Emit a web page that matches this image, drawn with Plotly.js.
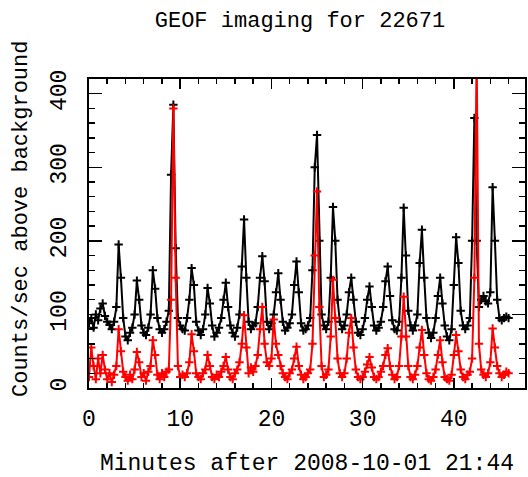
<!DOCTYPE html>
<html>
<head>
<meta charset="utf-8">
<script src="https://cdn.plot.ly/plotly-3.0.1.min.js"></script>
<style>html,body{margin:0;padding:0;background:#fff;}#chart{width:528px;height:477px;}</style>
</head>
<body>
<div id="chart"></div>
<script>
// Minutes after 2008-10-01 21:44
var minutes = [
 0.00,0.25,0.50,0.75,1.00,1.25,1.50,1.75,2.00,2.25,2.50,2.75,3.00,3.25,3.50,3.75,
 4.00,4.25,4.50,4.75,5.00,5.25,5.50,5.75,6.00,6.25,6.50,6.75,7.00,7.25,7.50,7.75,
 8.00,8.25,8.50,8.75,9.00,9.25,9.50,9.75,10.00,10.25,10.50,10.75,11.00,11.25,11.50,11.75,
 12.00,12.25,12.50,12.75,13.00,13.25,13.50,13.75,14.00,14.25,14.50,14.75,15.00,15.25,15.50,15.75,
 16.00,16.25,16.50,16.75,17.00,17.25,17.50,17.75,18.00,18.25,18.50,18.75,19.00,19.25,19.50,19.75,
 20.00,20.25,20.50,20.75,21.00,21.25,21.50,21.75,22.00,22.25,22.50,22.75,23.00,23.25,23.50,23.75,
 24.00,24.25,24.50,24.75,25.00,25.25,25.50,25.75,26.00,26.25,26.50,26.75,27.00,27.25,27.50,27.75,
 28.00,28.25,28.50,28.75,29.00,29.25,29.50,29.75,30.00,30.25,30.50,30.75,31.00,31.25,31.50,31.75,
 32.00,32.25,32.50,32.75,33.00,33.25,33.50,33.75,34.00,34.25,34.50,34.75,35.00,35.25,35.50,35.75,
 36.00,36.25,36.50,36.75,37.00,37.25,37.50,37.75,38.00,38.25,38.50,38.75,39.00,39.25,39.50,39.75,
 40.00,40.25,40.50,40.75,41.00,41.25,41.50,41.75,42.00,42.25,42.50,42.75,43.00,43.25,43.50,43.75,
 44.00,44.25,44.50,44.75,45.00,45.25,45.50,45.75,46.00
];
// Counts/sec above background, black series
var blackCounts = [
 88,95,82,100,92,108,115,98,90,86,80,90,110,195,150,95,
 70,65,75,82,100,146,120,85,75,72,82,100,160,135,95,80,
 75,80,90,105,290,385,190,95,85,80,78,95,120,163,140,90,
 78,72,80,100,136,115,85,70,75,82,95,120,143,110,85,75,
 70,82,100,165,229,150,90,80,85,88,110,150,179,145,90,80,
 88,100,130,156,120,90,78,82,88,100,140,172,130,88,78,80,
 85,95,160,300,344,200,100,85,80,90,150,246,200,120,90,80,
 85,100,130,150,120,90,75,72,80,95,120,138,110,85,78,82,
 90,110,145,165,125,92,80,78,90,150,245,180,105,85,78,85,
 100,170,215,150,95,75,68,75,95,125,150,115,85,70,65,80,
 140,205,170,105,85,80,85,95,200,367,200,110,120,125,118,115,
 130,273,200,120,95,92,95,97,95
];
// Counts/sec above background, red series
var redCounts = [
 15,55,30,12,40,20,45,25,12,20,8,18,30,80,50,22,
 15,10,18,12,25,49,35,15,20,10,22,30,65,45,18,12,
 20,15,22,25,120,380,150,30,15,18,15,20,35,73,50,20,
 15,12,20,25,45,30,15,12,18,15,22,30,42,25,15,12,
 20,25,35,60,99,55,20,28,22,30,45,80,110,60,35,30,
 40,93,60,45,30,20,15,12,20,25,40,56,30,18,12,15,
 20,25,60,180,267,110,30,15,18,25,70,147,95,40,20,15,
 20,40,75,95,55,25,15,12,15,22,32,42,28,15,12,15,
 22,30,45,54,30,18,12,15,30,70,124,70,30,15,12,18,
 30,55,79,45,20,12,10,15,25,45,65,35,15,12,10,18,
 45,72,50,25,15,12,18,22,40,150,460,60,25,18,15,20,
 35,81,55,30,20,15,18,22,20
];
var yTicks = [0,100,200,300,400];
var xTicks = [0,10,20,30,40];

var fam = "Liberation Mono, DejaVu Sans Mono, monospace";

var traces = [
 {x: minutes, y: blackCounts, type: "scatter", mode: "lines+markers", name: "black",
  line: {color: "#000", width: 2},
  marker: {symbol: "cross-thin", size: 6, color: "#000", line: {color: "#000", width: 2}},
  showlegend: false, hoverinfo: "skip"},
 {x: minutes, y: redCounts, type: "scatter", mode: "lines+markers", name: "red",
  line: {color: "#ff0000", width: 2},
  marker: {symbol: "cross-thin", size: 6, color: "#ff0000", line: {color: "#ff0000", width: 2}},
  showlegend: false, hoverinfo: "skip"}
];

var layout = {
 width: 528, height: 477,
 margin: {l: 89, r: 3, t: 79, b: 89, pad: 0},
 paper_bgcolor: "#fff", plot_bgcolor: "#fff",
 font: {family: fam, size: 22, color: "#000"},
 showlegend: false,
 title: {text: "GEOF imaging for 22671", font: {family: fam, size: 22, color: "#000"},
   x: 300/528, xref: "container", xanchor: "center", y: 1 - 19/477, yref: "container", yanchor: "middle"},
 xaxis: {
   range: [0, 47.8], tickvals: xTicks, ticktext: xTicks.map(String),
   ticks: "inside", ticklen: 10, tickwidth: 1.5, tickcolor: "#000",
   minor: {dtick: 2, ticks: "inside", ticklen: 5, tickwidth: 1.5, tickcolor: "#000", showgrid: false},
   showline: true, linecolor: "#000", linewidth: 2, mirror: "allticks",
   showgrid: false, zeroline: false, tickfont: {family: fam, size: 23, color: "#000"},
   ticklabelstandoff: 8,
   title: {text: "Minutes after 2008-10-01 21:44", font: {family: fam, size: 23, color: "#000"}, standoff: 22}
 },
 yaxis: {
   range: [0, 420], tickvals: yTicks, ticktext: yTicks.map(String), tickangle: -90,
   ticks: "inside", ticklen: 13, tickwidth: 1.5, tickcolor: "#000",
   minor: {dtick: 20, ticks: "inside", ticklen: 6, tickwidth: 1.5, tickcolor: "#000", showgrid: false},
   showline: true, linecolor: "#000", linewidth: 2, mirror: "allticks",
   showgrid: false, zeroline: false, tickfont: {family: fam, size: 23, color: "#000"},
   ticklabelstandoff: 12
 },
 annotations: [{
   text: "Counts/sec above background", textangle: -90, showarrow: false,
   xref: "paper", yref: "paper", x: (22 - 89) / 436, y: (388 - 219) / 309,
   xanchor: "center", yanchor: "middle",
   font: {family: fam, size: 22, color: "#000"}
 }]
};

Plotly.newPlot("chart", traces, layout, {displayModeBar: false, staticPlot: true});
</script>
</body>
</html>
